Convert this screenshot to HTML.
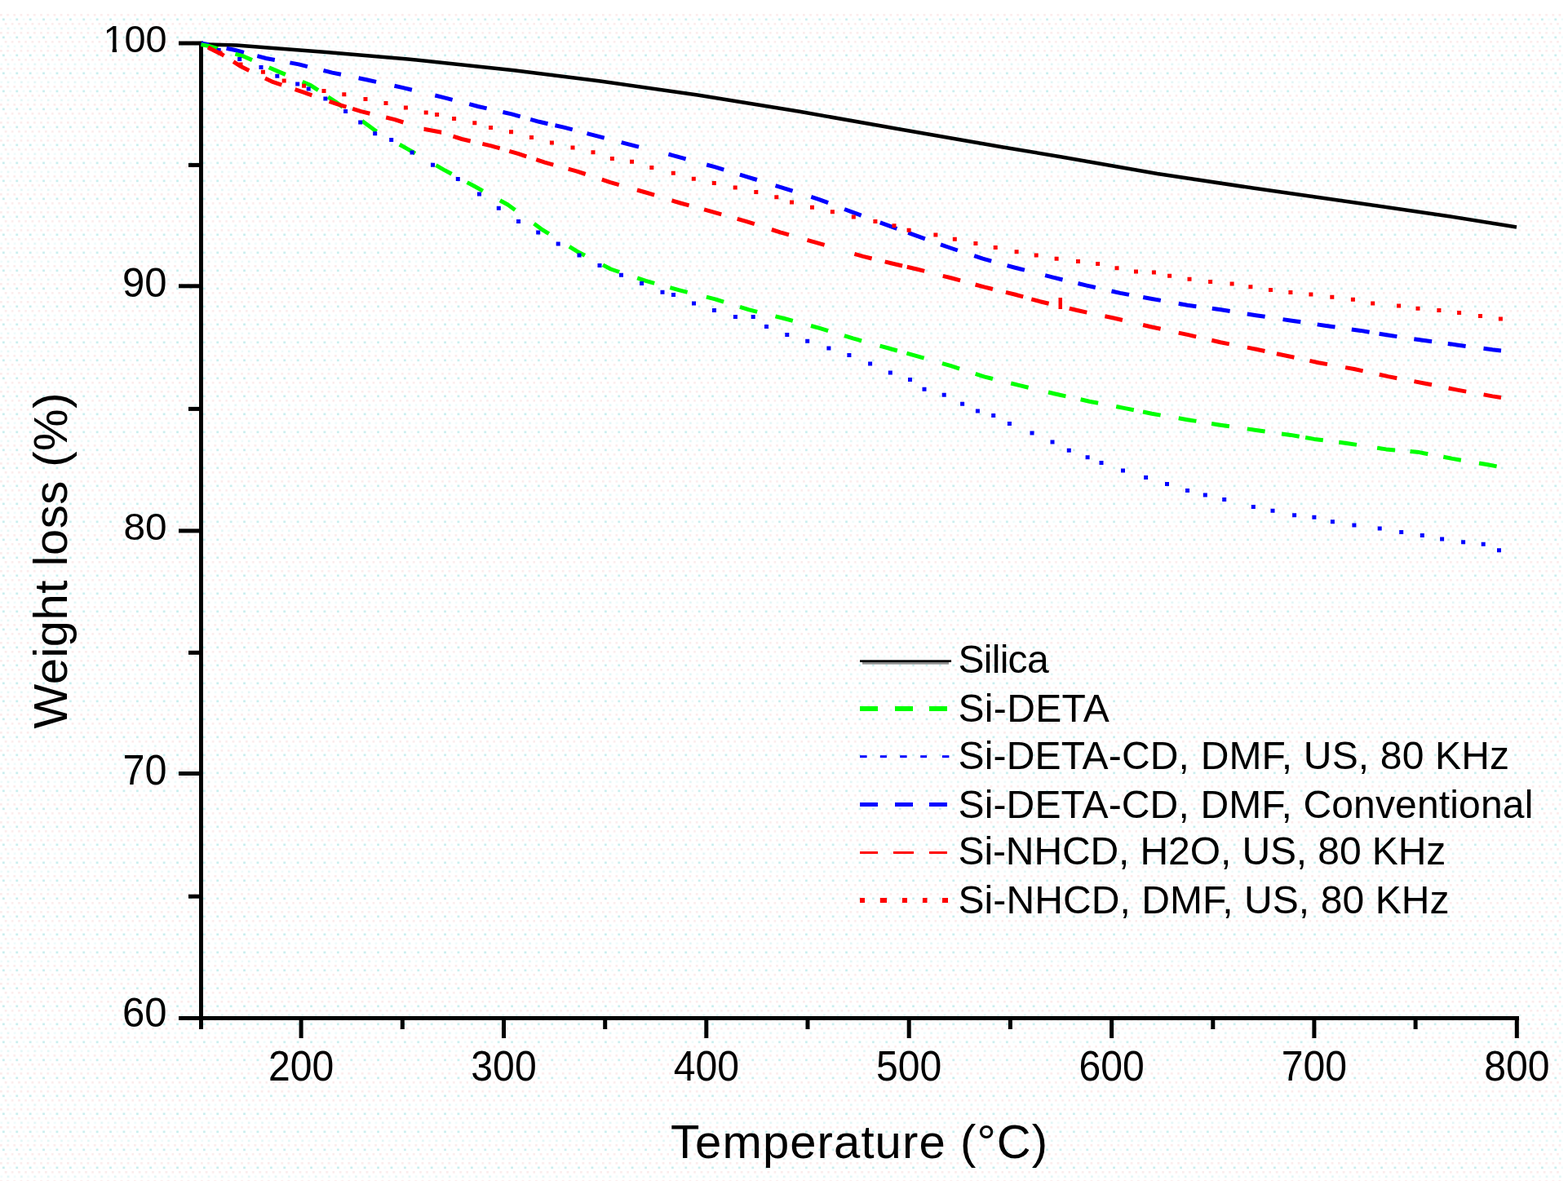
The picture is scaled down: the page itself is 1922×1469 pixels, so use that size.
<!DOCTYPE html>
<html><head><meta charset="utf-8"><title>Weight loss vs Temperature</title>
<style>
html,body{margin:0;padding:0;background:#fff;width:1922px;height:1469px;overflow:hidden}
svg{display:block}
text{font-family:'Liberation Sans', Arial, Helvetica, sans-serif;fill:#000}
</style></head><body>
<svg width="1922" height="1469" viewBox="0 0 1922 1469">
<defs>
<pattern id="dots" x="0" y="17" width="16.4" height="22" patternUnits="userSpaceOnUse">
<rect x="0" y="0" width="2.7" height="2.7" fill="#fbecec"/>
<rect x="8.2" y="0" width="2.7" height="2.7" fill="#fbecec"/>
<rect x="5.7" y="11" width="2.7" height="2.7" fill="#fbecec"/>
<rect x="13.9" y="11" width="2.7" height="2.7" fill="#fbecec"/>
<rect x="3" y="5.5" width="2.7" height="2.7" fill="#c8eeee"/>
<rect x="11.2" y="5.5" width="2.7" height="2.7" fill="#f0fbfb"/>
<rect x="0.4" y="16.5" width="2.7" height="2.7" fill="#f0fbfb"/>
<rect x="8.6" y="16.5" width="2.7" height="2.7" fill="#e2f6f6"/>
</pattern>
<clipPath id="nofoot" clipPathUnits="userSpaceOnUse">
<rect x="0" y="0" width="260" height="60"/>
<rect x="137.7" y="0" width="5.3" height="80"/>
<rect x="151" y="0" width="110" height="80"/>
</clipPath>
</defs>
<rect width="1922" height="1469" fill="#fff"/>
<rect x="0" y="17" width="1916" height="1431" fill="url(#dots)"/>

<g fill="#000">
<rect x="244" y="50.5" width="5" height="1211.5"/>
<rect x="219" y="1246" width="1643" height="5"/>
<rect x="219" y="50.5" width="25" height="5"/>
<rect x="219" y="348.3" width="25" height="5"/>
<rect x="219" y="648.4" width="25" height="5"/>
<rect x="219" y="946.0" width="25" height="5"/>
<rect x="231" y="199.9" width="13" height="5"/>
<rect x="231" y="498.9" width="13" height="5"/>
<rect x="231" y="797.8" width="13" height="5"/>
<rect x="231" y="1096.7" width="13" height="5"/>
<rect x="366.6" y="1251" width="5" height="22"/>
<rect x="615.0" y="1251" width="5" height="22"/>
<rect x="863.3" y="1251" width="5" height="22"/>
<rect x="1111.7" y="1251" width="5" height="22"/>
<rect x="1360.1" y="1251" width="5" height="22"/>
<rect x="1608.4" y="1251" width="5" height="22"/>
<rect x="1856.8" y="1251" width="5" height="22"/>
<rect x="490.8" y="1251" width="5" height="11"/>
<rect x="739.2" y="1251" width="5" height="11"/>
<rect x="987.5" y="1251" width="5" height="11"/>
<rect x="1235.9" y="1251" width="5" height="11"/>
<rect x="1484.3" y="1251" width="5" height="11"/>
<rect x="1732.6" y="1251" width="5" height="11"/>
</g>
<text x="204.5" y="63.7" font-size="46.8" text-anchor="end" clip-path="url(#nofoot)">100</text>
<text x="204.5" y="364.0" font-size="50.8" text-anchor="end" textLength="54.6" lengthAdjust="spacingAndGlyphs">90</text>
<text x="204.5" y="661.5" font-size="46.8" text-anchor="end" textLength="53.1" lengthAdjust="spacingAndGlyphs">80</text>
<text x="204.5" y="961.8" font-size="51.2" text-anchor="end" textLength="54.0" lengthAdjust="spacingAndGlyphs">70</text>
<text x="204.5" y="1259.4" font-size="49.5" text-anchor="end" textLength="54.5" lengthAdjust="spacingAndGlyphs">60</text>
<text x="369.1" y="1324.7" font-size="51" text-anchor="middle" textLength="80.3" lengthAdjust="spacingAndGlyphs">200</text>
<text x="617.5" y="1324.7" font-size="51" text-anchor="middle" textLength="80.3" lengthAdjust="spacingAndGlyphs">300</text>
<text x="865.8" y="1324.7" font-size="51" text-anchor="middle" textLength="80.3" lengthAdjust="spacingAndGlyphs">400</text>
<text x="1114.2" y="1324.7" font-size="51" text-anchor="middle" textLength="80.3" lengthAdjust="spacingAndGlyphs">500</text>
<text x="1362.6" y="1324.7" font-size="51" text-anchor="middle" textLength="80.3" lengthAdjust="spacingAndGlyphs">600</text>
<text x="1610.9" y="1324.7" font-size="51" text-anchor="middle" textLength="80.3" lengthAdjust="spacingAndGlyphs">700</text>
<text x="1859.3" y="1324.7" font-size="51" text-anchor="middle" textLength="80.3" lengthAdjust="spacingAndGlyphs">800</text>
<text x="822" y="1420.4" font-size="58" textLength="462" lengthAdjust="spacing">Temperature (°C)</text>
<text transform="translate(82.4,893.5) rotate(-90)" font-size="58" textLength="412" lengthAdjust="spacing">Weight loss (%)</text>
<g fill="none" stroke-linejoin="round">
<polyline points="246.5,54.4 290.0,55.4 331.6,58.7 400.0,63.9 500.0,72.5 630.0,86.3 734.0,99.3 855.0,116.5 980.0,136.8 1104.6,158.7 1229.5,180.5 1300.0,192.2 1418.6,213.0 1537.2,230.8 1655.9,247.7 1774.5,264.9 1859.0,278.5" stroke="#000" stroke-width="4.5"/>
<path d="M246.5 53.0 L256.1 54.9 M277.6 59.3 L288.4 61.5 L299.0 64.3 M315.4 68.7 L326.0 71.5 L336.8 73.5 M355.4 76.9 L366.2 78.9 L376.9 81.6 M396.5 86.4 L407.2 89.1 L418.0 91.3 M439.6 95.8 L450.4 98.0 L461.1 100.4 M483.5 105.2 L494.2 107.6 L504.9 110.2 M533.3 117.0 L544.0 119.6 L554.6 122.4 M575.3 127.7 L585.9 130.5 L596.6 132.9 M616.4 137.5 L627.1 139.9 L637.7 142.9 M650.2 146.3 L660.8 149.3 L671.5 151.7 M680.4 153.7 L691.1 156.1 L701.7 158.9 M719.5 163.6 L730.1 166.4 L740.7 169.2 M761.7 174.6 L772.3 177.4 L783.0 180.1 M819.4 189.1 L822.2 189.8 L837.8 194.2 L840.6 195.0 M866.2 202.0 L876.8 204.9 L887.3 208.1 M906.9 214.1 L917.4 217.3 L927.9 220.5 M950.6 227.6 L961.1 230.8 L971.6 234.2 M994.3 241.4 L1004.8 244.8 L1015.1 248.7 M1035.1 256.5 L1045.4 260.4 L1055.7 264.2 M1078.8 272.9 L1089.1 276.7 L1099.4 280.5 M1113.2 285.4 L1123.5 289.2 L1133.9 292.9 M1153.0 299.8 L1163.4 303.5 L1173.8 307.0 M1194.2 313.7 L1204.6 317.2 L1215.2 320.1 M1234.6 325.6 L1245.2 328.5 L1255.9 331.2 M1281.1 337.7 L1291.8 340.4 L1302.5 343.0 M1321.4 347.5 L1332.1 350.1 L1342.8 352.5 M1362.5 357.0 L1373.2 359.4 L1384.0 361.4 M1401.2 364.5 L1412.0 366.5 L1422.8 368.4 M1444.7 372.3 L1455.5 374.2 L1466.4 375.7 M1485.8 378.3 L1496.7 379.8 L1507.6 381.5 M1528.8 385.0 L1539.7 386.7 L1550.6 388.3 M1572.5 391.6 L1583.4 393.2 L1594.3 394.8 M1614.7 397.9 L1625.6 399.5 L1636.5 401.0 M1656.8 403.9 L1667.7 405.4 L1678.6 407.2 M1690.6 409.2 L1701.5 411.0 L1712.4 412.6 M1733.3 415.7 L1744.2 417.3 L1755.1 418.8 M1774.8 421.4 L1785.7 422.9 L1796.6 424.4 M1818.5 427.3 L1829.4 428.8 L1840.0 430.0" stroke="#0000ff" stroke-width="5"/>
<path d="M246.5 54.6 L256.6 56.6 L267.1 59.7 M288.4 66.1 L298.9 69.2 L309.0 73.6 M329.7 82.7 L339.8 87.1 L349.9 91.4 M370.7 100.3 L380.8 104.6 L390.0 110.7 M402.1 118.8 L411.3 124.9 L420.2 131.3 M443.8 148.2 L461.6 161.2 M489.8 177.2 L499.4 182.6 L508.9 188.1 M534.4 202.6 L543.9 208.1 L553.6 213.3 M572.6 223.6 L582.3 228.8 L591.9 234.1 M612.9 245.7 L622.5 251.0 L631.4 257.5 M654.6 274.3 L663.5 280.8 L672.8 286.6 M697.9 302.4 L707.2 308.2 L716.9 313.3 M739.0 324.9 L748.7 330.0 L759.1 333.5 M781.2 340.8 L791.6 344.3 L802.2 347.3 M821.3 352.7 L831.9 355.7 L842.6 358.4 M865.9 364.1 L876.6 366.8 L887.1 370.1 M907.0 376.3 L917.5 379.6 L928.2 382.3 M950.5 387.8 L961.2 390.5 L971.8 393.4 M994.0 399.5 L1004.6 402.4 L1015.1 405.6 M1035.0 411.7 L1045.5 414.9 L1056.1 417.8 M1078.6 424.1 L1089.2 427.0 L1099.8 430.0 M1111.4 433.2 L1122.0 436.2 L1132.6 439.2 M1155.0 445.7 L1165.6 448.7 L1176.1 452.1 M1195.7 458.4 L1206.2 461.8 L1216.9 464.5 M1239.2 470.0 L1249.9 472.7 L1260.6 475.2 M1285.0 481.0 L1295.7 483.5 L1306.4 485.9 M1324.6 489.8 L1335.3 492.2 L1346.1 494.3 M1368.2 498.5 L1379.0 500.6 L1389.8 502.8 M1401.0 505.0 L1411.8 507.2 L1422.6 509.1 M1444.7 512.8 L1455.5 514.7 L1466.4 516.4 M1485.1 519.5 L1496.0 521.2 L1506.9 522.8 M1528.8 525.9 L1539.7 527.5 L1550.6 529.0 M1571.0 531.9 L1581.9 533.4 L1592.7 535.3 M1600.1 536.5 L1610.9 538.4 L1621.8 539.8 M1641.2 542.3 L1652.1 543.7 L1663.0 545.4 M1688.1 549.2 L1699.0 550.9 L1710.0 551.9 M1728.5 553.6 L1739.5 554.6 L1750.3 556.7 M1769.3 560.3 L1780.1 562.4 L1790.9 564.2 M1813.0 568.0 L1823.8 569.8 L1834.6 571.9" stroke="#00ff00" stroke-width="5"/>
</g>
<path d="M265.7 59.1h5v5h-5z M291.2 70.0h5v5h-5z M317.5 80.0h5v5h-5z M337.3 90.8h5v5h-5z M362.2 100.5h5v5h-5z M375.7 106.5h5v5h-5z M396.4 118.6h5v5h-5z M421.1 134.1h5v5h-5z M439.2 147.5h5v5h-5z M457.2 161.2h5v5h-5z M477.2 169.0h5v5h-5z M502.6 184.4h5v5h-5z M528.0 199.8h5v5h-5z M558.8 216.9h5v5h-5z M585.0 235.6h5v5h-5z M608.8 252.8h5v5h-5z M633.0 268.9h5v5h-5z M657.2 282.5h5v5h-5z M681.7 296.5h5v5h-5z M707.5 310.6h5v5h-5z M732.5 323.0h5v5h-5z M759.0 334.8h5v5h-5z M784.0 344.9h5v5h-5z M809.5 355.8h5v5h-5z M823.0 359.1h5v5h-5z M848.0 369.4h5v5h-5z M873.0 378.0h5v5h-5z M898.9 386.0h5v5h-5z M920.7 386.0h5v5h-5z M937.0 398.1h5v5h-5z M962.3 408.0h5v5h-5z M987.2 415.8h5v5h-5z M1013.4 424.4h5v5h-5z M1038.4 433.0h5v5h-5z M1064.1 443.6h5v5h-5z M1088.8 454.5h5v5h-5z M1113.0 463.0h5v5h-5z M1130.5 474.8h5v5h-5z M1154.7 481.8h5v5h-5z M1177.1 492.7h5v5h-5z M1195.9 501.4h5v5h-5z M1215.2 507.0h5v5h-5z M1234.9 517.0h5v5h-5z M1262.5 528.5h5v5h-5z M1287.5 539.6h5v5h-5z M1307.8 549.8h5v5h-5z M1330.6 558.2h5v5h-5z M1347.5 565.0h5v5h-5z M1374.0 574.5h5v5h-5z M1402.1 582.9h5v5h-5z M1428.0 591.0h5v5h-5z M1453.0 599.1h5v5h-5z M1474.8 604.5h5v5h-5z M1498.2 610.1h5v5h-5z M1533.8 619.1h5v5h-5z M1557.5 623.7h5v5h-5z M1584.1 629.2h5v5h-5z M1608.4 631.7h5v5h-5z M1630.9 637.3h5v5h-5z M1657.4 641.4h5v5h-5z M1688.7 645.5h5v5h-5z M1715.2 650.1h5v5h-5z M1740.8 653.9h5v5h-5z M1765.1 658.6h5v5h-5z M1791.1 662.3h5v5h-5z M1815.7 664.8h5v5h-5z M1835.0 672.3h5v5h-5z" fill="#0000ff"/>
<g fill="none" stroke-linejoin="round">
<path d="M255.0 58.0 L257.5 59.5 L272.0 66.7 L274.5 68.3 M286.1 75.7 L295.4 81.6 L305.3 86.4 M325.0 95.9 L334.9 100.7 L345.3 104.2 M361.6 109.7 L372.0 113.2 L382.4 116.8 M403.6 124.3 L414.0 127.9 L424.5 131.1 M432.2 133.4 L442.7 136.6 L453.4 139.2 M473.2 144.0 L483.9 146.6 L494.4 150.0 M519.6 158.2 L519.7 158.2 L541.0 162.3 L541.1 162.3 M555.5 167.1 L566.0 170.5 L576.7 173.0 M591.4 176.4 L602.1 178.9 L612.7 181.9 M624.3 185.3 L634.9 188.3 L645.3 191.8 M657.3 195.7 L667.7 199.2 L678.3 202.1 M696.7 207.2 L707.3 210.1 L717.7 213.5 M737.8 220.2 L748.2 223.6 L758.8 226.6 M781.0 233.0 L791.6 236.0 L802.1 239.2 M823.5 245.8 L834.0 249.0 L844.6 251.9 M863.1 256.9 L873.7 259.8 L884.3 262.8 M903.7 268.4 L914.3 271.4 L924.8 274.7 M945.9 281.5 L956.4 284.8 L967.0 287.8 M989.5 294.3 L1000.1 297.3 L1010.6 300.4 M1047.4 311.3 L1057.9 314.4 L1068.6 317.0 M1084.7 320.9 L1095.4 323.5 L1106.1 326.0 M1111.8 327.2 L1122.5 329.7 L1133.2 332.4 M1155.8 338.3 L1166.5 341.0 L1177.1 343.9 M1195.6 349.0 L1206.2 351.9 L1216.9 354.5 M1232.9 358.4 L1243.6 361.0 L1254.2 363.9 M1264.3 366.8 L1274.9 369.7 L1285.6 372.2 M1310.8 378.3 L1321.5 380.8 L1332.3 383.1 M1354.4 387.7 L1365.2 390.0 L1375.9 392.5 M1401.1 398.5 L1411.8 401.0 L1422.6 403.3 M1444.7 408.1 L1455.5 410.4 L1466.2 412.9 M1485.3 417.3 L1496.0 419.8 L1506.8 421.9 M1528.9 426.1 L1539.7 428.2 L1550.4 430.5 M1564.9 433.7 L1575.6 436.0 L1586.4 438.3 M1605.4 442.4 L1616.2 444.7 L1627.0 446.6 M1649.1 450.6 L1659.9 452.5 L1670.6 454.9 M1690.8 459.2 L1701.5 461.6 L1712.3 463.7 M1733.4 467.6 L1744.2 469.7 L1755.0 471.8 M1775.6 476.0 L1786.4 478.1 L1797.2 480.1 M1818.6 483.9 L1829.4 485.9 L1840.0 487.5" stroke="#ff0000" stroke-width="5"/>
</g>
<path d="M267.5 62.5h5v5h-5z M292.5 76.5h5v5h-5z M319.9 85.8h5v5h-5z M345.7 96.6h5v5h-5z M370.1 102.8h5v5h-5z M394.5 109.1h5v5h-5z M419.3 113.2h5v5h-5z M445.5 119.1h5v5h-5z M470.5 124.1h5v5h-5z M494.9 129.6h5v5h-5z M519.7 135.5h5v5h-5z M533.1 138.0h5v5h-5z M554.1 142.9h5v5h-5z M579.3 148.3h5v5h-5z M599.0 153.9h5v5h-5z M624.0 159.2h5v5h-5z M649.0 166.1h5v5h-5z M673.9 172.4h5v5h-5z M699.5 178.6h5v5h-5z M724.5 184.2h5v5h-5z M747.9 192.0h5v5h-5z M772.0 195.8h5v5h-5z M796.3 203.0h5v5h-5z M822.8 209.8h5v5h-5z M847.8 216.7h5v5h-5z M872.8 222.0h5v5h-5z M898.7 227.6h5v5h-5z M924.3 233.0h5v5h-5z M949.3 239.2h5v5h-5z M968.0 245.5h5v5h-5z M993.0 251.7h5v5h-5z M1017.9 257.3h5v5h-5z M1043.8 263.5h5v5h-5z M1070.4 268.9h5v5h-5z M1093.5 274.2h5v5h-5z M1111.6 279.8h5v5h-5z M1144.4 285.4h5v5h-5z M1167.8 290.7h5v5h-5z M1193.4 296.0h5v5h-5z M1217.7 301.0h5v5h-5z M1243.6 306.3h5v5h-5z M1267.7 310.4h5v5h-5z M1292.6 314.7h5v5h-5z M1319.0 318.0h5v5h-5z M1343.1 321.0h5v5h-5z M1366.5 326.2h5v5h-5z M1390.0 330.5h5v5h-5z M1411.9 331.4h5v5h-5z M1431.1 335.8h5v5h-5z M1455.5 339.8h5v5h-5z M1481.1 343.0h5v5h-5z M1507.6 345.5h5v5h-5z M1530.4 349.2h5v5h-5z M1555.0 352.9h5v5h-5z M1579.4 356.1h5v5h-5z M1604.4 358.6h5v5h-5z M1630.3 361.7h5v5h-5z M1655.9 364.8h5v5h-5z M1680.2 369.5h5v5h-5z M1712.1 372.6h5v5h-5z M1735.5 375.7h5v5h-5z M1761.4 377.9h5v5h-5z M1786.1 381.0h5v5h-5z M1812.0 385.1h5v5h-5z M1836.9 388.6h5v5h-5z" fill="#ff0000"/>
<rect x="1297.5" y="365" width="4.5" height="14" fill="#ff0000"/>
<g>
<rect x="1054" y="809.3" width="112" height="2.7" fill="#000"/>
<rect x="1057" y="812" width="106" height="2.6" fill="#8a8a8a"/>
<rect x="1054" y="866" width="22" height="6" fill="#00ff00"/>
<rect x="1097" y="866" width="22" height="6" fill="#00ff00"/>
<rect x="1139" y="866" width="22" height="6" fill="#00ff00"/>
<rect x="1054.0" y="926.2" width="8.6" height="3" fill="#0000ff"/>
<rect x="1078.8" y="926.2" width="8.1" height="3" fill="#0000ff"/>
<rect x="1103.2" y="926.2" width="8.4" height="3" fill="#0000ff"/>
<rect x="1128.2" y="926.2" width="7.8" height="3" fill="#0000ff"/>
<rect x="1154.9" y="926.2" width="8.5" height="3" fill="#0000ff"/>
<rect x="1054" y="984" width="22" height="5" fill="#0000ff"/>
<rect x="1097" y="984" width="22" height="5" fill="#0000ff"/>
<rect x="1139" y="984" width="22" height="5" fill="#0000ff"/>
<rect x="1054" y="1044" width="22" height="3" fill="#ff0000"/>
<rect x="1095" y="1044" width="25" height="3" fill="#ff0000"/>
<rect x="1139" y="1044" width="22" height="3" fill="#ff0000"/>
<rect x="1054.0" y="1101" width="6.0" height="6" fill="#ff0000"/>
<rect x="1078.8" y="1101" width="8.2" height="6" fill="#ff0000"/>
<rect x="1105.9" y="1101" width="6.1" height="6" fill="#ff0000"/>
<rect x="1130.9" y="1101" width="5.6" height="6" fill="#ff0000"/>
<rect x="1155.0" y="1101" width="7.0" height="6" fill="#ff0000"/>
</g>
<text x="1174.5" y="825.4" font-size="48" textLength="111.1" lengthAdjust="spacing">Silica</text>
<text x="1174.5" y="885.4" font-size="48" textLength="185.2" lengthAdjust="spacing">Si-DETA</text>
<text x="1174.5" y="943.0" font-size="48" textLength="675.6" lengthAdjust="spacing">Si-DETA-CD, DMF, US, 80 KHz</text>
<text x="1174.5" y="1002.9" font-size="48" textLength="704.8" lengthAdjust="spacing">Si-DETA-CD, DMF, Conventional</text>
<text x="1174.5" y="1059.9" font-size="48" textLength="597.7" lengthAdjust="spacing">Si-NHCD, H2O, US, 80 KHz</text>
<text x="1174.5" y="1120.0" font-size="48" textLength="602.0" lengthAdjust="spacing">Si-NHCD, DMF, US, 80 KHz</text>
</svg>
</body></html>
